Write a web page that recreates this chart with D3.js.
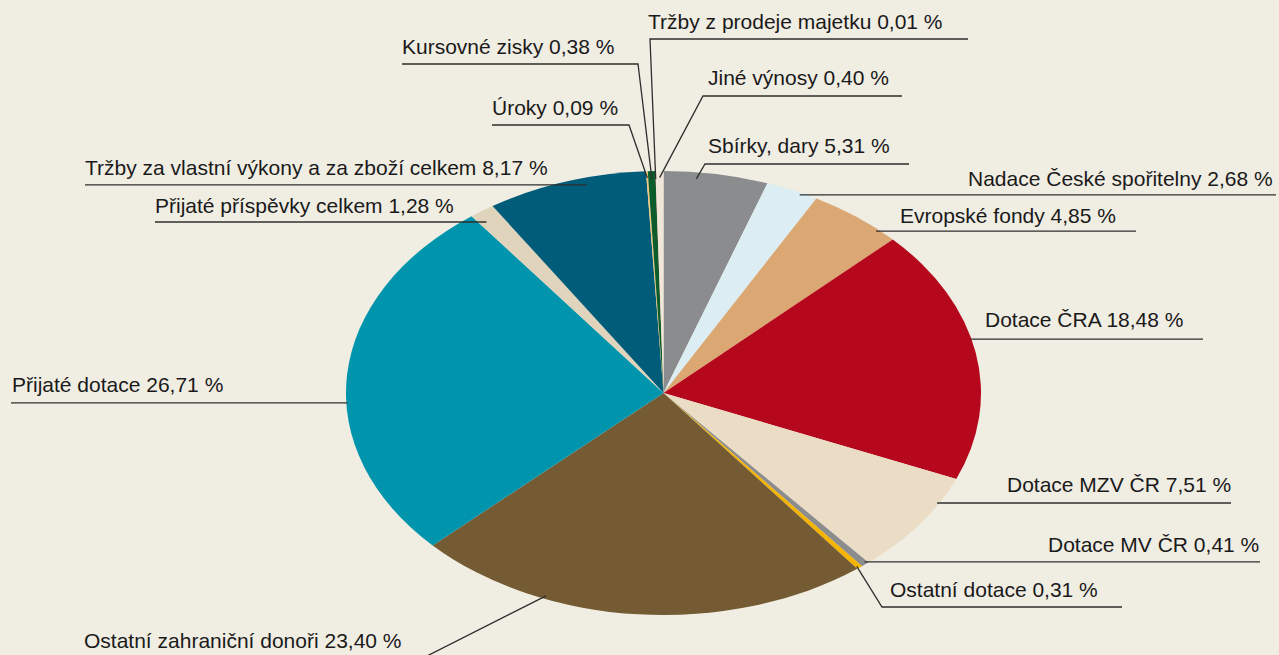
<!DOCTYPE html>
<html>
<head>
<meta charset="utf-8">
<script src="https://cdn.jsdelivr.net/npm/d3@7/dist/d3.min.js"></script>
<style>
  html, body { margin: 0; padding: 0; background: #f0ede3; }
  svg { display: block; }
  text { font-family: "Liberation Sans", Arial, Helvetica, sans-serif; font-size: 21px; fill: #1a1a1a; }
</style>
</head>
<body>
<svg id="chart" width="1279" height="655"></svg>
<script>
// ---- data ----
const categories = [
  "Sbírky, dary",
  "Nadace České spořitelny",
  "Evropské fondy",
  "Dotace ČRA",
  "Dotace MZV ČR",
  "Dotace MV ČR",
  "Ostatní dotace",
  "Ostatní zahraniční donoři",
  "Přijaté dotace",
  "Přijaté příspěvky celkem",
  "Tržby za vlastní výkony a za zboží celkem",
  "Úroky",
  "Kursovné zisky",
  "Tržby z prodeje majetku",
  "Jiné výnosy"
];
const values = [5.31, 2.68, 4.85, 18.48, 7.51, 0.41, 0.31, 23.40, 26.71, 1.28, 8.17, 0.09, 0.38, 0.01, 0.40];
const colors = [
  "#8b8c8e", "#dceef3", "#dba874", "#b5081c", "#ebdcc6", "#8b8c8e", "#f4b400",
  "#745b33", "#0095ac", "#e1d4bd", "#005c78", "#f3c77b", "#0d5c2b", "#c8102e", "#f1e7d9"
];

// ---- label layout (text position, leader anchor inside slice) ----
// mode 'h': horizontal underline from the pie anchor to fx
// mode 'd': leader from pie anchor to elbow (ex,ey), then underline to fx
const labelLayout = [
  {tx: 708,  ty: 153, t: 0.32, k: 0.97,  mode: "d", ex: 705, ey: 164, fx: 909},
  {tx: 968,  ty: 186, t: 0.68, k: 0.99,  mode: "h", fx: 1276},
  {tx: 900,  ty: 223, t: 0.79, k: 0.99,  mode: "h", fx: 1136},
  {tx: 985,  ty: 327, t: 0.446, k: 0.998, mode: "h", fx: 1203},
  {tx: 1007, ty: 492, t: 0.264, k: 0.994, mode: "h", fx: 1231},
  {tx: 1048, ty: 552, t: 0.3,  k: 0.99,  mode: "h", fx: 1260},
  {tx: 890,  ty: 597, t: 0.7,  k: 0.99,  mode: "d", ex: 882, ey: 607, fx: 1122},
  {tx: 84,   ty: 648, t: 0.708, k: 0.986, mode: "d", ex: 423, ey: 658, fx: 84},
  {tx: 12,   ty: 392, t: 0.424, k: 0.996, mode: "h", fx: 11},
  {tx: 155,  ty: 213, t: 0.28, k: 0.951, mode: "h", fx: 155},
  {tx: 85,   ty: 175, t: 0.616, k: 0.968, mode: "h", fx: 85},
  {tx: 492,  ty: 115, t: 0.5,  k: 0.97,  mode: "d", ex: 629, ey: 125, fx: 492},
  {tx: 402,  ty: 54,  t: 0.5,  k: 0.963, mode: "d", ex: 638, ey: 64,  fx: 402},
  {tx: 648,  ty: 29,  t: 0.5,  k: 0.963, mode: "d", ex: 650, ey: 39,  fx: 968},
  {tx: 708,  ty: 85,  t: 0.5,  k: 0.97,  mode: "d", ex: 703, ey: 96,  fx: 902}
];

// ---- drawing ----
const W = 1279, H = 655;
const cx = 663.5, cy = 393, rx = 317.5, ry = 222;
const svg = d3.select("#chart");
svg.append("rect").attr("width", W).attr("height", H).attr("fill", "#f0ede3");

const pieGen = d3.pie().sort(null).value(d => d);
const arcs = pieGen(values);
const arcGen = d3.arc().innerRadius(0).outerRadius(rx);

const g = svg.append("g").attr("transform", `translate(${cx},${cy}) scale(1,${ry / rx})`);
g.selectAll("path")
  .data(arcs)
  .join("path")
  .attr("d", arcGen)
  .attr("fill", (d, i) => colors[i]);

function anchor(a, t, k) {
  const th = a.startAngle + t * (a.endAngle - a.startAngle);
  return [cx + rx * k * Math.sin(th), cy - ry * k * Math.cos(th)];
}

const fmt = v => d3.format(".2f")(v).replace(".", ",") + " %";
const lab = svg.append("g");
arcs.forEach((a, i) => {
  const L = labelLayout[i];
  const P = anchor(a, L.t, L.k);
  let pts;
  if (L.mode === "h") pts = [P, [L.fx, P[1]]];
  else pts = [P, [L.ex, L.ey], [L.fx, L.ey]];
  lab.append("path")
    .attr("d", d3.line()(pts))
    .attr("fill", "none")
    .attr("stroke", "#2e2e2e")
    .attr("stroke-width", 1.3);
  lab.append("text")
    .attr("x", L.tx)
    .attr("y", L.ty)
    .text(categories[i] + " " + fmt(values[i]));
});
</script>
</body>
</html>
